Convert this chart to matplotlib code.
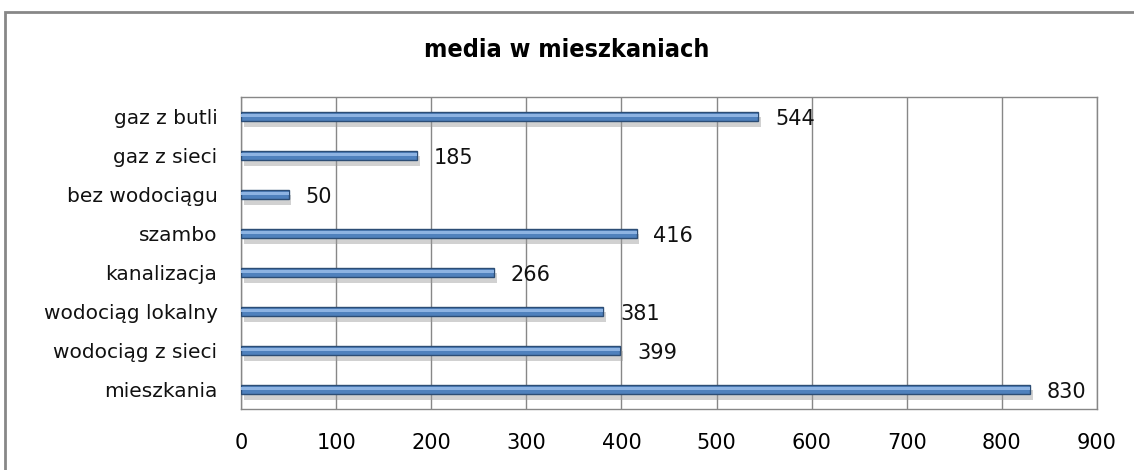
import numpy as np
import matplotlib.pyplot as plt
import matplotlib.patches as mpatches
import matplotlib.patheffects as pe

# dane
kategorie = ["mieszkania", "wodociąg z sieci", "wodociąg lokalny", "kanalizacja",
             "szambo", "bez wodociągu", "gaz z sieci", "gaz z butli"]
wartosci = [830, 399, 381, 266, 416, 50, 185, 544]
xticks = [0, 100, 200, 300, 400, 500, 600, 700, 800, 900]

fig = plt.figure(figsize=(11.34, 4.70), dpi=100)
fig.patch.set_facecolor("white")

# ramka wykresu (wychodzi poza prawą i dolną krawędź)
fig.add_artist(mpatches.Rectangle((5 / 1134, -0.05), 1.2, 1 - 12 / 470 + 0.05,
                                  transform=fig.transFigure, fill=False,
                                  edgecolor="#878787", linewidth=2))

ax = fig.add_axes([241 / 1134, 1 - 409 / 470, (1097 - 241) / 1134, (409 - 97) / 470])

y = np.arange(len(kategorie))
bars = ax.barh(y, wartosci, height=0.25, color="#4F81BD", edgecolor="#2C4D75",
               linewidth=1.0, zorder=3)
for b in bars:
    b.set_path_effects([pe.SimplePatchShadow(offset=(2, -4), shadow_rgbFace="#9a9a9a",
                                             alpha=0.45), pe.Normal()])
    # jasny pasek na górze słupka
    ax.add_patch(mpatches.Rectangle((b.get_x(), b.get_y() + b.get_height() * 0.45),
                                    b.get_width(), b.get_height() * 0.3,
                                    facecolor="#8DB3E2", edgecolor="none", zorder=4))

for yi, v in zip(y, wartosci):
    ax.annotate(str(v), (v, yi), xytext=(12, -2), textcoords="offset points",
                va="center", ha="left", fontsize=15, color="#111111")

ax.set_xlim(0, 900)
ax.set_ylim(-0.5, len(kategorie) - 0.5)
ax.set_xticks(xticks)
ax.set_xticklabels([str(t) for t in xticks], fontsize=15)
ax.set_yticks(y)
ax.set_yticklabels(kategorie, fontsize=14.5, color="#111111")
ax.tick_params(axis="both", length=0)
ax.tick_params(axis="x", pad=17)
ax.tick_params(axis="y", pad=17)
ax.grid(axis="x", color="#878787", linewidth=1, zorder=0)
for s in ax.spines.values():
    s.set_color("#878787")
    s.set_linewidth(1)

fig.text(0.5, 1 - 50 / 470, "media w mieszkaniach", ha="center", va="center",
         fontsize=18, fontweight="bold", fontstretch="condensed")

fig.savefig("out.png", dpi=100)
